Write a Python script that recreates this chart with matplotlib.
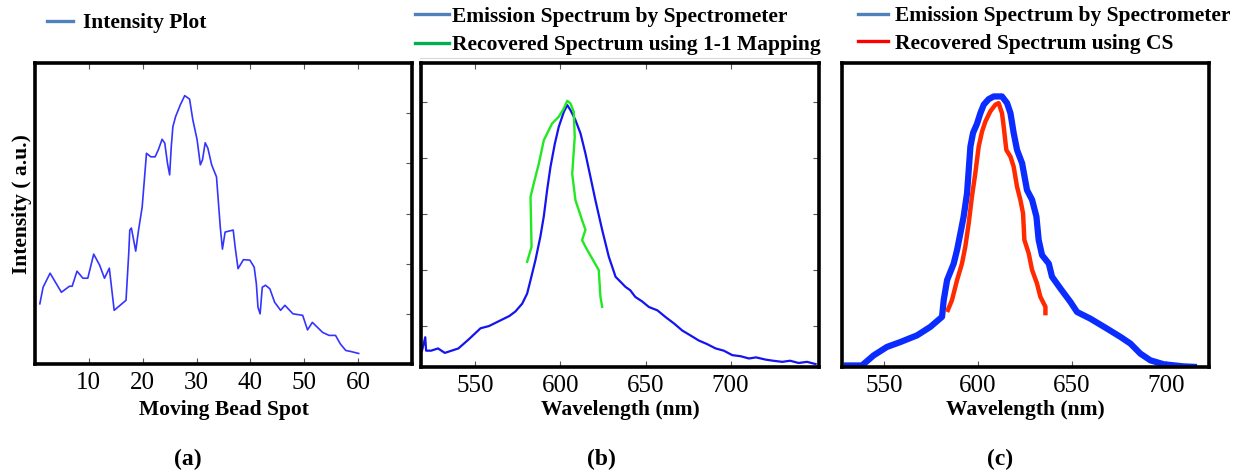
import matplotlib
matplotlib.use("Agg")
import matplotlib.pyplot as plt
from matplotlib.lines import Line2D

plt.rcParams['font.family'] = ['Liberation Serif', 'DejaVu Serif']

# (a) intensity along moving bead spot
spot = [0.9, 1.5, 2.8, 4.9, 6.4, 6.9, 7.8, 8.9, 9.8, 10.9, 12.0, 12.9, 13.8, 14.7, 16.9,
        17.4, 17.6, 17.9, 18.7, 19.2, 19.9, 20.7, 21.5, 22.3, 22.9, 23.6, 24.1, 24.6, 25.0,
        25.3, 25.6, 26.1, 27.0, 27.8, 28.7, 29.3, 30.1, 30.7, 31.1, 31.6, 32.1, 32.8, 33.7,
        34.0, 34.4, 34.8, 35.3, 36.8, 37.2, 37.7, 38.7, 39.9, 40.7, 41.1, 41.4, 41.8, 42.2,
        42.8, 43.6, 44.5, 45.6, 46.4, 47.9, 49.7, 50.6, 51.5, 53.4, 54.6, 55.8, 56.7, 57.7,
        58.6, 60.1]
intensity = [1.20, 1.53, 1.81, 1.43, 1.55, 1.55, 1.85, 1.71, 1.71, 2.19, 1.97, 1.71, 1.91,
             1.07, 1.27, 2.20, 2.67, 2.71, 2.25, 2.65, 3.13, 4.20, 4.13, 4.13, 4.27, 4.48,
             4.40, 4.00, 3.77, 4.33, 4.73, 4.93, 5.17, 5.35, 5.28, 4.87, 4.47, 3.97, 4.07,
             4.41, 4.30, 3.97, 3.73, 3.30, 2.73, 2.29, 2.63, 2.67, 2.30, 1.90, 2.08, 2.07,
             1.93, 1.60, 1.13, 1.00, 1.53, 1.57, 1.50, 1.23, 1.07, 1.17, 1.00, 0.97, 0.68,
             0.83, 0.63, 0.57, 0.57, 0.40, 0.27, 0.25, 0.21]

# (b) spectrometer spectrum and 1-1 mapping recovery
wl_b = [518.6, 520.5, 521.0, 524, 528, 532, 536, 540, 546, 553, 558, 562, 566, 570, 573.5,
        577.5, 580.4, 582.4, 585.3, 588.2, 590.2, 592.2, 594.1, 596.7, 599, 602, 604, 605.9,
        608.8, 611.8, 614.7, 617.6, 620.6, 624.5, 628.4, 632.4, 635, 638.2, 641, 644, 648,
        652, 657, 661.8, 667, 671.6, 676, 681.4, 686, 691.2, 696, 701, 706, 710.8, 715,
        720.6, 725, 730.4, 735, 740, 745, 750]
spec_b = [-0.11, -0.05, -0.11, -0.11, -0.10, -0.12, -0.11, -0.10, -0.06, -0.01, 0.00, 0.015,
          0.03, 0.045, 0.065, 0.10, 0.145, 0.205, 0.295, 0.40, 0.49, 0.61, 0.71, 0.815, 0.89,
          0.957, 0.987, 0.964, 0.92, 0.86, 0.77, 0.667, 0.56, 0.43, 0.31, 0.22, 0.20, 0.175,
          0.16, 0.13, 0.11, 0.085, 0.07, 0.04, 0.01, -0.02, -0.04, -0.065, -0.08, -0.10, -0.11,
          -0.13, -0.135, -0.145, -0.14, -0.15, -0.155, -0.16, -0.155, -0.165, -0.16, -0.17]
wl_map = [580.4, 583.0, 582.4, 584.3, 587.3, 590.2, 595.1, 599.0, 602.0, 604.0, 605.9, 607.8,
          608.4, 606.9, 608.8, 612.7, 614.7, 612.7, 614.7, 622.5, 623.5, 624.5]
spec_map = [0.287, 0.354, 0.577, 0.637, 0.726, 0.83, 0.905, 0.935, 0.972, 1.006, 0.994, 0.957,
            0.845, 0.68, 0.5625, 0.473, 0.43, 0.384, 0.354, 0.25, 0.131, 0.086]

# (c) spectrometer spectrum and CS recovery
wl_c = [528.6, 538.3, 544.5, 551.6, 558.7, 567.6, 574.7, 580.9, 581.8, 583.6, 587.1, 588.9,
        591.0, 592.4, 594.2, 595.1, 596.0, 597.4, 599.5, 601.3, 603.1, 605.7, 608.4, 612.8,
        615.5, 617.3, 619.0, 620.8, 623.5, 626.1, 628.8, 631.1, 632.3, 634.1, 637.7, 639.4,
        643.9, 649.2, 652.7, 659.8, 668.7, 675.8, 681.1, 686.4, 691.7, 698.8, 709.4, 716.5]
spec_c = [0.005, 0.005, 0.038, 0.066, 0.082, 0.104, 0.132, 0.165, 0.22, 0.286, 0.34, 0.385,
          0.45, 0.495, 0.571, 0.648, 0.725, 0.77, 0.80, 0.835, 0.863, 0.881, 0.89, 0.89,
          0.868, 0.835, 0.77, 0.714, 0.67, 0.582, 0.55, 0.495, 0.418, 0.368, 0.34, 0.297,
          0.258, 0.214, 0.181, 0.159, 0.126, 0.099, 0.077, 0.044, 0.022, 0.009, 0.002, 0.0]
wl_cs = [583.6, 586.2, 588.9, 591.5, 593.3, 595.1, 596.8, 598.6, 600.4, 602.2, 604.0, 606.6,
         609.3, 611.0, 612.8, 613.7, 615.1, 617.3, 619.0, 620.8, 622.6, 624.0, 624.7, 627.0,
         628.8, 631.4, 633.2, 635.9, 635.9]
spec_cs = [0.181, 0.22, 0.286, 0.34, 0.396, 0.473, 0.56, 0.637, 0.725, 0.775, 0.808, 0.841,
           0.863, 0.868, 0.835, 0.791, 0.714, 0.692, 0.659, 0.593, 0.549, 0.505, 0.418, 0.374,
           0.319, 0.275, 0.231, 0.198, 0.17]

W, H = 1236, 471
fig = plt.figure(figsize=(W / 100, H / 100), dpi=100)


def px_axes(left, top, right, bottom):
    return fig.add_axes([left / W, 1 - bottom / H, (right - left) / W, (bottom - top) / H])


def frame(ax):
    for s in ax.spines.values():
        s.set_linewidth(2.6)
    ax.tick_params(direction='in', length=4, width=0.8, color='#555555',
                   labelsize=18, pad=6)


# ---- (a)
ax1 = px_axes(35, 63, 412, 364)
ax1.plot(spot, intensity, color='#3434ff', lw=1.2)
ax1.set_xlim(0, 70)
ax1.set_ylim(0, 6)
ax1.set_xticks([10, 20, 30, 40, 50, 60])
ax1.set_yticks([1, 2, 3, 4, 5])
ax1.set_yticklabels([])
frame(ax1)
ax1.tick_params(top=True, right=True, left=False)
ax1.set_xlabel('Moving Bead Spot', fontsize=15.5, fontweight='bold', labelpad=4)
ax1.set_ylabel('Intensity ( a.u.)', fontsize=15.5, fontweight='bold')
ax1.yaxis.set_label_coords(-0.008, 0.53)

# ---- (b)
ax2 = px_axes(421, 63, 819, 367)
ax2.plot(wl_b, spec_b, color='#1414f0', lw=1.6)
ax2.plot(wl_map, spec_map, color='#22e822', lw=1.7)
ax2.set_xlim(518, 752)
ax2.set_ylim(-0.183, 1.175)
ax2.set_xticks([550, 600, 650, 700])
ax2.set_yticks([0, 0.25, 0.5, 0.75, 1.0])
ax2.set_yticklabels([])
frame(ax2)
ax2.tick_params(top=True, right=True)
ax2.set_xlabel('Wavelength (nm)', fontsize=15.5, fontweight='bold', labelpad=2)

# ---- (c)
ax3 = px_axes(842, 63, 1209, 367)
ax3.plot(wl_c, spec_c, color='#0a2cff', lw=4.5, solid_capstyle='butt')
ax3.plot(wl_cs, spec_cs, color='#ff2a00', lw=3.2, solid_capstyle='butt')
ax3.set_xlim(527.7, 722.9)
ax3.set_ylim(0, 1)
ax3.set_xticks([550, 600, 650, 700])
ax3.set_yticks([])
frame(ax3)
ax3.set_xlabel('Wavelength (nm)', fontsize=15.5, fontweight='bold', labelpad=2)

# legends above the panels
leg_font = {'size': 15.5, 'weight': 'bold'}
fig.legend([Line2D([], [], color='#4f81bd', lw=2.4)], ['Intensity Plot'],
           loc='center left', bbox_to_anchor=(47 / W, 1 - 23 / H), frameon=False,
           prop=leg_font, handlelength=1.2, handletextpad=0.45, borderpad=0, borderaxespad=0)
fig.legend([Line2D([], [], color='#4f81bd', lw=2.4), Line2D([], [], color='#00b050', lw=2.4)],
           ['Emission Spectrum by Spectrometer', 'Recovered Spectrum using 1-1 Mapping'],
           loc='center left', bbox_to_anchor=(415 / W, 1 - 31 / H), frameon=False,
           prop=leg_font, handlelength=1.6, handletextpad=0.12, labelspacing=0.4,
           borderpad=0, borderaxespad=0)
fig.legend([Line2D([], [], color='#4f81bd', lw=2.4), Line2D([], [], color='#ff0000', lw=2.4)],
           ['Emission Spectrum by Spectrometer', 'Recovered Spectrum using CS'],
           loc='center left', bbox_to_anchor=(858 / W, 1 - 30 / H), frameon=False,
           prop=leg_font, handlelength=1.4, handletextpad=0.33, labelspacing=0.33,
           borderpad=0, borderaxespad=0)
fig.add_artist(Line2D([420 / W, 812 / W], [1 - 58 / H, 1 - 58 / H], color='#d8d8d8', lw=0.8))

# panel letters
for x, s in [(188, '(a)'), (601, '(b)'), (1000, '(c)')]:
    fig.text(x / W, 1 - 459 / H, s, ha='center', va='center', fontsize=17, fontweight='bold')

fig.savefig('out.png', dpi=100)
